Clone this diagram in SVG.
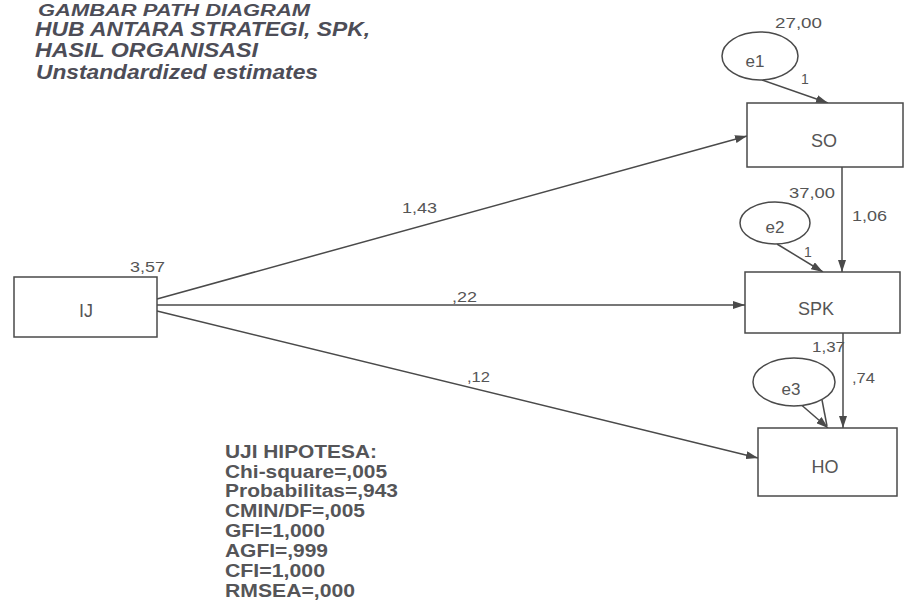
<svg xmlns="http://www.w3.org/2000/svg" width="906" height="601" viewBox="0 0 906 601">
<defs>
<marker id="ah" viewBox="0 0 12 8" refX="12" refY="4" markerWidth="12" markerHeight="8" markerUnits="userSpaceOnUse" orient="auto">
<path d="M0,0 L12,4 L0,8 Z" fill="#4a4a4a"/>
</marker>
<style>
.title{font-family:"Liberation Sans",Arial,sans-serif;font-size:20px;font-weight:bold;font-style:italic;fill:#4d4d57}
.stat{font-family:"Liberation Sans",Arial,sans-serif;font-size:18px;font-weight:bold;fill:#555558}
.lbl{font-family:"Liberation Sans",Arial,sans-serif;font-size:14px;fill:#555}
.node{fill:#fff;stroke:#4a4a4a;stroke-width:1.5}
.ntext{font-family:"Liberation Sans",Arial,sans-serif;font-size:18px;fill:#555;text-anchor:middle}
.etext{font-family:"Liberation Sans",Arial,sans-serif;font-size:17px;fill:#555;text-anchor:middle}
.conn line{stroke:#4a4a4a;stroke-width:1.5;fill:none}
</style>
</defs>
<rect width="906" height="601" fill="#fff"/>
<g id="title">
<text class="title" x="38" y="16" style="font-size:16px" textLength="272" lengthAdjust="spacingAndGlyphs">GAMBAR PATH DIAGRAM</text>
<text class="title" x="35" y="36" textLength="335" lengthAdjust="spacingAndGlyphs">HUB ANTARA STRATEGI, SPK,</text>
<text class="title" x="35" y="57" textLength="223" lengthAdjust="spacingAndGlyphs">HASIL ORGANISASI</text>
<text class="title" x="36" y="79" textLength="282" lengthAdjust="spacingAndGlyphs">Unstandardized estimates</text>
</g>
<g class="conn" id="connectors">
<line x1="157" y1="299" x2="747" y2="136" marker-end="url(#ah)"/>
<line x1="157" y1="305" x2="745" y2="305" marker-end="url(#ah)"/>
<line x1="157" y1="311" x2="758" y2="458" marker-end="url(#ah)"/>
<line x1="762" y1="80" x2="828" y2="103" marker-end="url(#ah)"/>
<line x1="842" y1="167" x2="842" y2="272" marker-end="url(#ah)"/>
<line x1="777" y1="244" x2="823" y2="272" marker-end="url(#ah)"/>
<line x1="843" y1="333" x2="843" y2="428" marker-end="url(#ah)"/>
<line x1="798" y1="402" x2="828" y2="428" marker-end="url(#ah)"/>
<line x1="822" y1="400" x2="827" y2="426"/>
</g>
<g id="IJ">
<rect class="node" x="14" y="277" width="143" height="60"/>
<text class="ntext" x="86" y="317">IJ</text>
<text class="lbl" x="130" y="272" textLength="35" lengthAdjust="spacingAndGlyphs">3,57</text>
</g>
<g id="SO">
<rect class="node" x="747" y="103" width="156" height="64"/>
<text class="ntext" x="824" y="147">SO</text>
</g>
<g id="SPK">
<rect class="node" x="745" y="272" width="155" height="61"/>
<text class="ntext" x="816" y="315">SPK</text>
</g>
<g id="HO">
<rect class="node" x="758" y="428" width="139" height="68"/>
<text class="ntext" x="825" y="473">HO</text>
</g>
<g id="e1">
<ellipse class="node" cx="760" cy="56" rx="38" ry="24"/>
<text class="etext" x="755" y="67">e1</text>
<text class="lbl" x="775" y="28" textLength="47" lengthAdjust="spacingAndGlyphs">27,00</text>
</g>
<g id="e2">
<ellipse class="node" cx="775" cy="223" rx="35" ry="21"/>
<text class="etext" x="775" y="233">e2</text>
<text class="lbl" x="789" y="198" textLength="46" lengthAdjust="spacingAndGlyphs">37,00</text>
</g>
<g id="e3">
<ellipse class="node" cx="794" cy="382" rx="41" ry="24"/>
<text class="etext" x="791" y="395">e3</text>
</g>
<g id="labels">
<text class="lbl" x="402" y="213" textLength="35" lengthAdjust="spacingAndGlyphs">1,43</text>
<text class="lbl" x="452" y="302" textLength="25" lengthAdjust="spacingAndGlyphs">,22</text>
<text class="lbl" x="467" y="382" textLength="23" lengthAdjust="spacingAndGlyphs">,12</text>
<text class="lbl" x="801" y="84">1</text>
<text class="lbl" x="852" y="221" textLength="35" lengthAdjust="spacingAndGlyphs">1,06</text>
<text class="lbl" x="804" y="257">1</text>
<text class="lbl" x="812" y="352" textLength="33" lengthAdjust="spacingAndGlyphs">1,37</text>
<text class="lbl" x="852" y="383" textLength="23" lengthAdjust="spacingAndGlyphs">,74</text>
</g>
<g id="stats">
<text class="stat" x="225" y="458" textLength="152" lengthAdjust="spacingAndGlyphs">UJI HIPOTESA:</text>
<text class="stat" x="225" y="478" textLength="162" lengthAdjust="spacingAndGlyphs">Chi-square=,005</text>
<text class="stat" x="225" y="497" textLength="173" lengthAdjust="spacingAndGlyphs">Probabilitas=,943</text>
<text class="stat" x="225" y="517" textLength="140" lengthAdjust="spacingAndGlyphs">CMIN/DF=,005</text>
<text class="stat" x="225" y="537" textLength="100" lengthAdjust="spacingAndGlyphs">GFI=1,000</text>
<text class="stat" x="225" y="557" textLength="103" lengthAdjust="spacingAndGlyphs">AGFI=,999</text>
<text class="stat" x="225" y="577" textLength="100" lengthAdjust="spacingAndGlyphs">CFI=1,000</text>
<text class="stat" x="225" y="597" textLength="130" lengthAdjust="spacingAndGlyphs">RMSEA=,000</text>
</g>
</svg>
